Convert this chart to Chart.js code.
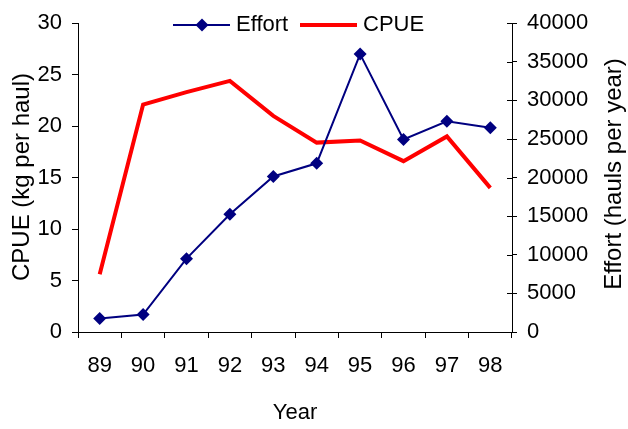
<!DOCTYPE html>
<html>
<head>
<meta charset="utf-8">
<script src="https://cdn.jsdelivr.net/npm/chart.js@4"></script>
<style>
  body { margin: 0; background: #fff; }
  canvas { display: block; }
</style>
</head>
<body>
<canvas id="chart" width="628" height="429"></canvas>
<script>
// data
const years = ["89", "90", "91", "92", "93", "94", "95", "96", "97", "98"];
const effort = [1750, 2260, 9500, 15250, 20150, 21850, 36000, 24950, 27300, 26450];
const cpue = [5.6, 22.1, 23.3, 24.4, 21.0, 18.4, 18.6, 16.6, 19.0, 14.0];

const FONT = "Liberation Sans, Arial, sans-serif";
const NAVY = "#000080";
const RED = "#ff0000";

// axis titles + legend, drawn by hand so they sit where the original has them
const extras = {
  id: "extras",
  afterDraw(chart) {
    const ctx = chart.ctx;
    const area = chart.chartArea;
    ctx.save();
    ctx.fillStyle = "#000";
    ctx.textAlign = "center";
    ctx.textBaseline = "middle";

    // right axis ticks cross the axis line
    ctx.strokeStyle = "#000";
    ctx.lineWidth = 1;
    chart.scales.yR.ticks.forEach(t => {
      const y = Math.round(chart.scales.yR.getPixelForValue(t.value)) + 0.5;
      ctx.beginPath();
      ctx.moveTo(area.right - 5, y);
      ctx.lineTo(area.right, y);
      ctx.stroke();
    });

    ctx.font = "24px " + FONT;
    // left title
    ctx.save();
    ctx.translate(22, 177);
    ctx.rotate(-Math.PI / 2);
    ctx.fillText("CPUE (kg per haul)", 0, 0);
    ctx.restore();

    // right title
    ctx.save();
    ctx.translate(614, 174);
    ctx.rotate(-Math.PI / 2);
    ctx.fillText("Effort (hauls per year)", 0, 0);
    ctx.restore();

    // x title
    ctx.font = "22px " + FONT;
    ctx.fillText("Year", (area.left + area.right) / 2, 413);

    // legend
    const ly = 25;
    ctx.textAlign = "left";
    ctx.strokeStyle = NAVY;
    ctx.lineWidth = 2;
    ctx.beginPath();
    ctx.moveTo(173, ly);
    ctx.lineTo(230, ly);
    ctx.stroke();
    ctx.fillStyle = NAVY;
    ctx.beginPath();
    ctx.moveTo(202, ly - 6.5);
    ctx.lineTo(208.5, ly);
    ctx.lineTo(202, ly + 6.5);
    ctx.lineTo(195.5, ly);
    ctx.closePath();
    ctx.fill();
    ctx.fillStyle = "#000";
    ctx.fillText("Effort", 236, ly);

    ctx.strokeStyle = RED;
    ctx.lineWidth = 4;
    ctx.beginPath();
    ctx.moveTo(300, ly);
    ctx.lineTo(357, ly);
    ctx.stroke();
    ctx.fillText("CPUE", 363, ly);
    ctx.restore();
  }
};

new Chart(document.getElementById("chart"), {
  type: "line",
  data: {
    labels: years,
    datasets: [
      {
        label: "Effort",
        data: effort,
        yAxisID: "yR",
        borderColor: NAVY,
        backgroundColor: NAVY,
        borderWidth: 2,
        pointStyle: "rectRot",
        pointRadius: 6.5,
        pointBorderWidth: 0,
        tension: 0
      },
      {
        label: "CPUE",
        data: cpue,
        yAxisID: "y",
        borderColor: RED,
        backgroundColor: RED,
        borderWidth: 4,
        pointRadius: 0,
        tension: 0
      }
    ]
  },
  options: {
    responsive: false,
    devicePixelRatio: 1,
    animation: false,
    layout: { padding: { top: 19, left: 0, right: 0, bottom: 0 } },
    plugins: {
      legend: { display: false },
      tooltip: { enabled: false }
    },
    scales: {
      x: {
        offset: true,
        grid: { offset: true, drawOnChartArea: false, tickLength: 6, color: "#000" },
        border: { display: true, color: "#000" },
        ticks: { color: "#000", font: { family: FONT, size: 22 }, padding: 15, maxRotation: 0 },
        afterFit(scale) { scale.height = 97; }
      },
      y: {
        position: "left",
        min: 0,
        max: 30,
        ticks: { stepSize: 5, color: "#000", font: { family: FONT, size: 22 }, padding: 10 },
        grid: { drawOnChartArea: false, tickLength: 6, color: "#000" },
        border: { display: true, color: "#000" },
        afterFit(scale) { scale.width = 78; }
      },
      yR: {
        position: "right",
        min: 0,
        max: 40000,
        ticks: {
          stepSize: 5000,
          color: "#000",
          font: { family: FONT, size: 22 },
          padding: 10,
          callback: v => String(v)
        },
        grid: { drawOnChartArea: false, tickLength: 5, color: "#000" },
        border: { display: true, color: "#000" },
        afterFit(scale) { scale.width = 116; }
      }
    }
  },
  plugins: [extras]
});
</script>
</body>
</html>
